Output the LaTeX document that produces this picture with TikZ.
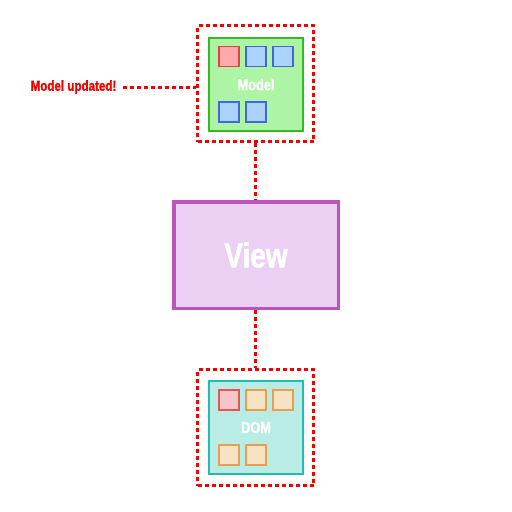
\documentclass[tikz,border=0pt]{standalone}
\usepackage{fontspec}
\newfontfamily\condfont{Liberation Sans Bold}[FakeStretch=0.8,FakeBold=1.2]
\definecolor{alertred}{HTML}{F00000}
\definecolor{modelgreen}{HTML}{33BB22}
\definecolor{modelfill}{HTML}{ADF5A5}
\definecolor{viewline}{HTML}{BB55BB}
\definecolor{viewfill}{HTML}{ECD0F4}
\definecolor{domline}{HTML}{22BBB0}
\definecolor{domfill}{HTML}{B8ECE4}
\definecolor{bluecell}{HTML}{AAD4FF}
\definecolor{blueline}{HTML}{4466DD}
\definecolor{redcell}{HTML}{FFAAAA}
\definecolor{redline}{HTML}{DD4444}
\definecolor{paleredcell}{HTML}{F6C6C6}
\definecolor{paleredline}{HTML}{E05555}
\definecolor{orangecell}{HTML}{F8E2C4}
\definecolor{orangeline}{HTML}{E8A050}

\begin{document}
\begin{tikzpicture}[x=1pt,y=-1pt,
    wrapbox/.style={draw=alertred,line width=3pt,dash pattern=on 4pt off 3pt,minimum size=116pt,inner sep=0pt},
    link/.style={draw=alertred,line width=3pt,dash pattern=on 4pt off 3pt},
    store/.style={line width=2pt,minimum width=94pt,minimum height=93pt,inner sep=0pt,text=white,font=\condfont\fontsize{16}{16}\selectfont},
    cell/.style={line width=1.5pt,minimum size=20pt,inner sep=0pt},
    bluebox/.style={cell,draw=blueline,fill=bluecell},
    redbox/.style={cell,draw=redline,fill=redcell},
    paleredbox/.style={cell,draw=paleredline,fill=paleredcell},
    orangebox/.style={cell,draw=orangeline,fill=orangecell}]
    \useasboundingbox (0,0) rectangle (512,512);

    % Model
    \node[wrapbox] (modelwrap) at (255.5,83.5) {};
    \node[store,draw=modelgreen,fill=modelfill] (model) at (256,84.5) {Model};
    \node[redbox] (m1) at (229,56.5) {};
    \node[bluebox] (m2) at (256,56.5) {};
    \node[bluebox] (m3) at (283,56.5) {};
    \node[bluebox] (m4) at (229,112) {};
    \node[bluebox] (m5) at (256,112) {};

    \node[text=alertred,font=\condfont\fontsize{14.5}{14.5}\selectfont,inner sep=6pt] (updated) at (73.5,87) {Model updated!};
    \draw[link] (updated.east) -- (updated.east -| modelwrap.west);

    % View
    \node[draw=viewline,fill=viewfill,line width=3.5pt,minimum width=164.5pt,minimum height=106.5pt,inner sep=0pt,
        text=white,font=\condfont\fontsize{35}{35}\selectfont] (view) at (256,255) {View};

    % DOM
    \node[wrapbox] (domwrap) at (255.5,427.5) {};
    \node[store,draw=domline,fill=domfill] (dom) at (256,427.5) {DOM};
    \node[paleredbox] (d1) at (229,400) {};
    \node[orangebox] (d2) at (256,400) {};
    \node[orangebox] (d3) at (283,400) {};
    \node[orangebox] (d4) at (229,455) {};
    \node[orangebox] (d5) at (256,455) {};

    % Links
    \draw[link] (modelwrap.south) -- (modelwrap.south |- view.north);
    \draw[link] (view.south -| domwrap.north) -- (domwrap.north);
\end{tikzpicture}
\end{document}
